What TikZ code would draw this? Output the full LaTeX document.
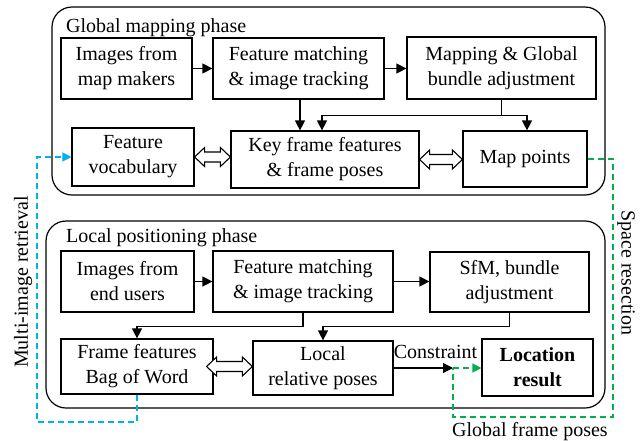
\documentclass[tikz,border=0pt]{standalone}
\usepackage{fontspec}
\setmainfont{LiberationSerif}[Extension=.ttf, UprightFont=*-Regular, BoldFont=*-Bold, ItalicFont=*-Italic, BoldItalicFont=*-BoldItalic]
\usetikzlibrary{arrows.meta,calc}
\definecolor{cblue}{HTML}{00B0F0}
\definecolor{cgreen}{HTML}{00B050}
\tikzset{
  dbl/.style={draw, line width=1.1pt, fill=white,
    to path={let \p1=(\tikztostart), \p2=(\tikztotarget) in
      (\x1,\y1) -- (\x1+10pt,\y1+9.5pt) -- (\x1+10pt,\y1+5pt) -- (\x2-10pt,\y1+5pt)
      -- (\x2-10pt,\y1+9.5pt) -- (\x2,\y1) -- (\x2-10pt,\y1-9.5pt) -- (\x2-10pt,\y1-5pt)
      -- (\x1+10pt,\y1-5pt) -- (\x1+10pt,\y1-9.5pt) -- cycle}}
}
\begin{document}
\begin{tikzpicture}[x=1pt,y=-1pt,
  every node/.style={font=\rmfamily\fontsize{20}{25}\selectfont},
  box/.style={draw, line width=1.2pt, align=center, inner sep=0pt, fill=white},
  frame/.style={draw, line width=1.2pt, rounded corners=20pt},
  arr/.style={line width=1.2pt, -{Triangle[length=10pt,width=10pt]}},
  plain/.style={line width=1.2pt},
  bdash/.style={cblue, line width=1.3pt, dash pattern=on 6pt off 4pt},
  gdash/.style={cgreen, line width=1.3pt, dash pattern=on 6pt off 4pt},
  ctip/.style={-{Triangle[length=9pt,width=9pt]}},
  lbl/.style={inner sep=0pt}
]
\useasboundingbox (0,0) rectangle (641,440);

% frames
\draw[frame] (52,7) rectangle (605,195);
\draw[frame] (46,221) rectangle (605,408);
\node[lbl, anchor=base west] (t1) at (66,32) {Global mapping phase};
\node[lbl, anchor=base west] (t2) at (66,242) {Local positioning phase};

% global boxes
\node[box, minimum width=131pt, minimum height=61pt] (b1) at (126.5,68.5) {Images from\\map makers};
\node[box, minimum width=171pt, minimum height=61pt] (b2) at (298.5,68.5) {Feature matching\\\& image tracking};
\node[box, minimum width=189pt, minimum height=62pt] (b3) at (501.5,68) {Mapping \& Global\\bundle adjustment};
\node[box, minimum width=122pt, minimum height=58pt] (b4) at (133,157) {Feature\\vocabulary};
\node[box, minimum width=188pt, minimum height=57pt] (b5) at (325,159.5) {Key frame features\\\& frame poses};
\node[box, minimum width=124pt, minimum height=56pt] (b6) at (525,159) {Map points};

% local boxes
\node[box, minimum width=133pt, minimum height=61pt] (b7) at (127.5,281.5) {Images from\\end users};
\node[box, minimum width=180pt, minimum height=61pt] (b8) at (303,281.5) {Feature matching\\\& image tracking};
\node[box, minimum width=159pt, minimum height=60pt] (b9) at (509.5,282) {SfM, bundle\\adjustment};
\node[box, minimum width=152pt, minimum height=55pt] (b10) at (137,366.5) {Frame features\\Bag of Word};
\node[box, minimum width=140pt, minimum height=54pt] (b11) at (323,368) {Local\\relative poses};
\node[box, minimum width=111pt, minimum height=57pt] (b12) at (537.5,367.5) {\textbf{Location}\\\textbf{result}};

% global arrows
\draw[arr] (b1.east) -- (b1.east -| b2.west);
\draw[arr] (b2.east) -- (b2.east -| b3.west);
\draw[arr] ([xshift=1.5pt]b2.south) -- ([xshift=1.5pt]b2.south |- b5.north);
\draw[plain] (b3.south) -- ++(0,16) coordinate (j1);
\draw[arr] (j1) -| ([xshift=-3pt]b5.north);
\draw[arr] (j1) -| ([xshift=2pt]b6.north);

% local arrows
\draw[arr] (b7.east) -- (b7.east -| b8.west);
\draw[arr] (b8.east) -- (b8.east -| b9.west);
\draw[arr] (b8.south) -- ++(0,14) -| (b10.north);
\draw[arr] (b9.south) -- ++(0,14) -| (b11.north);

% double arrows
\draw[dbl] (b4.east) to (b5.west);
\draw[dbl] (b5.east) to (b6.west);
\draw[dbl] ([xshift=-7pt]b10.east) to (b11.west);

% constraint
\coordinate (cj) at (453,368);
\draw[arr] (b11.east |- cj) -- (cj);
\node[lbl, anchor=base] (lc) at (435.5,358) {Constraint};
\draw[gdash, ctip] (cj) -- (cj -| b12.west);

% green loop
\coordinate (g1) at (613,417);
\draw[gdash] (b6.east) -| (g1) -| (cj);
\node[lbl, rotate=-90] (ls) at (626,273) {Space resection};
\node[lbl, anchor=base] (lg) at (530,436) {Global frame poses};

% blue loop
\coordinate (bl1) at (37,422);
\draw[bdash, ctip] (b10.south) |- (bl1) |- (b4.west);
\node[lbl, rotate=90] (lm) at (23,282) {Multi-image retrieval};
\end{tikzpicture}
\end{document}
